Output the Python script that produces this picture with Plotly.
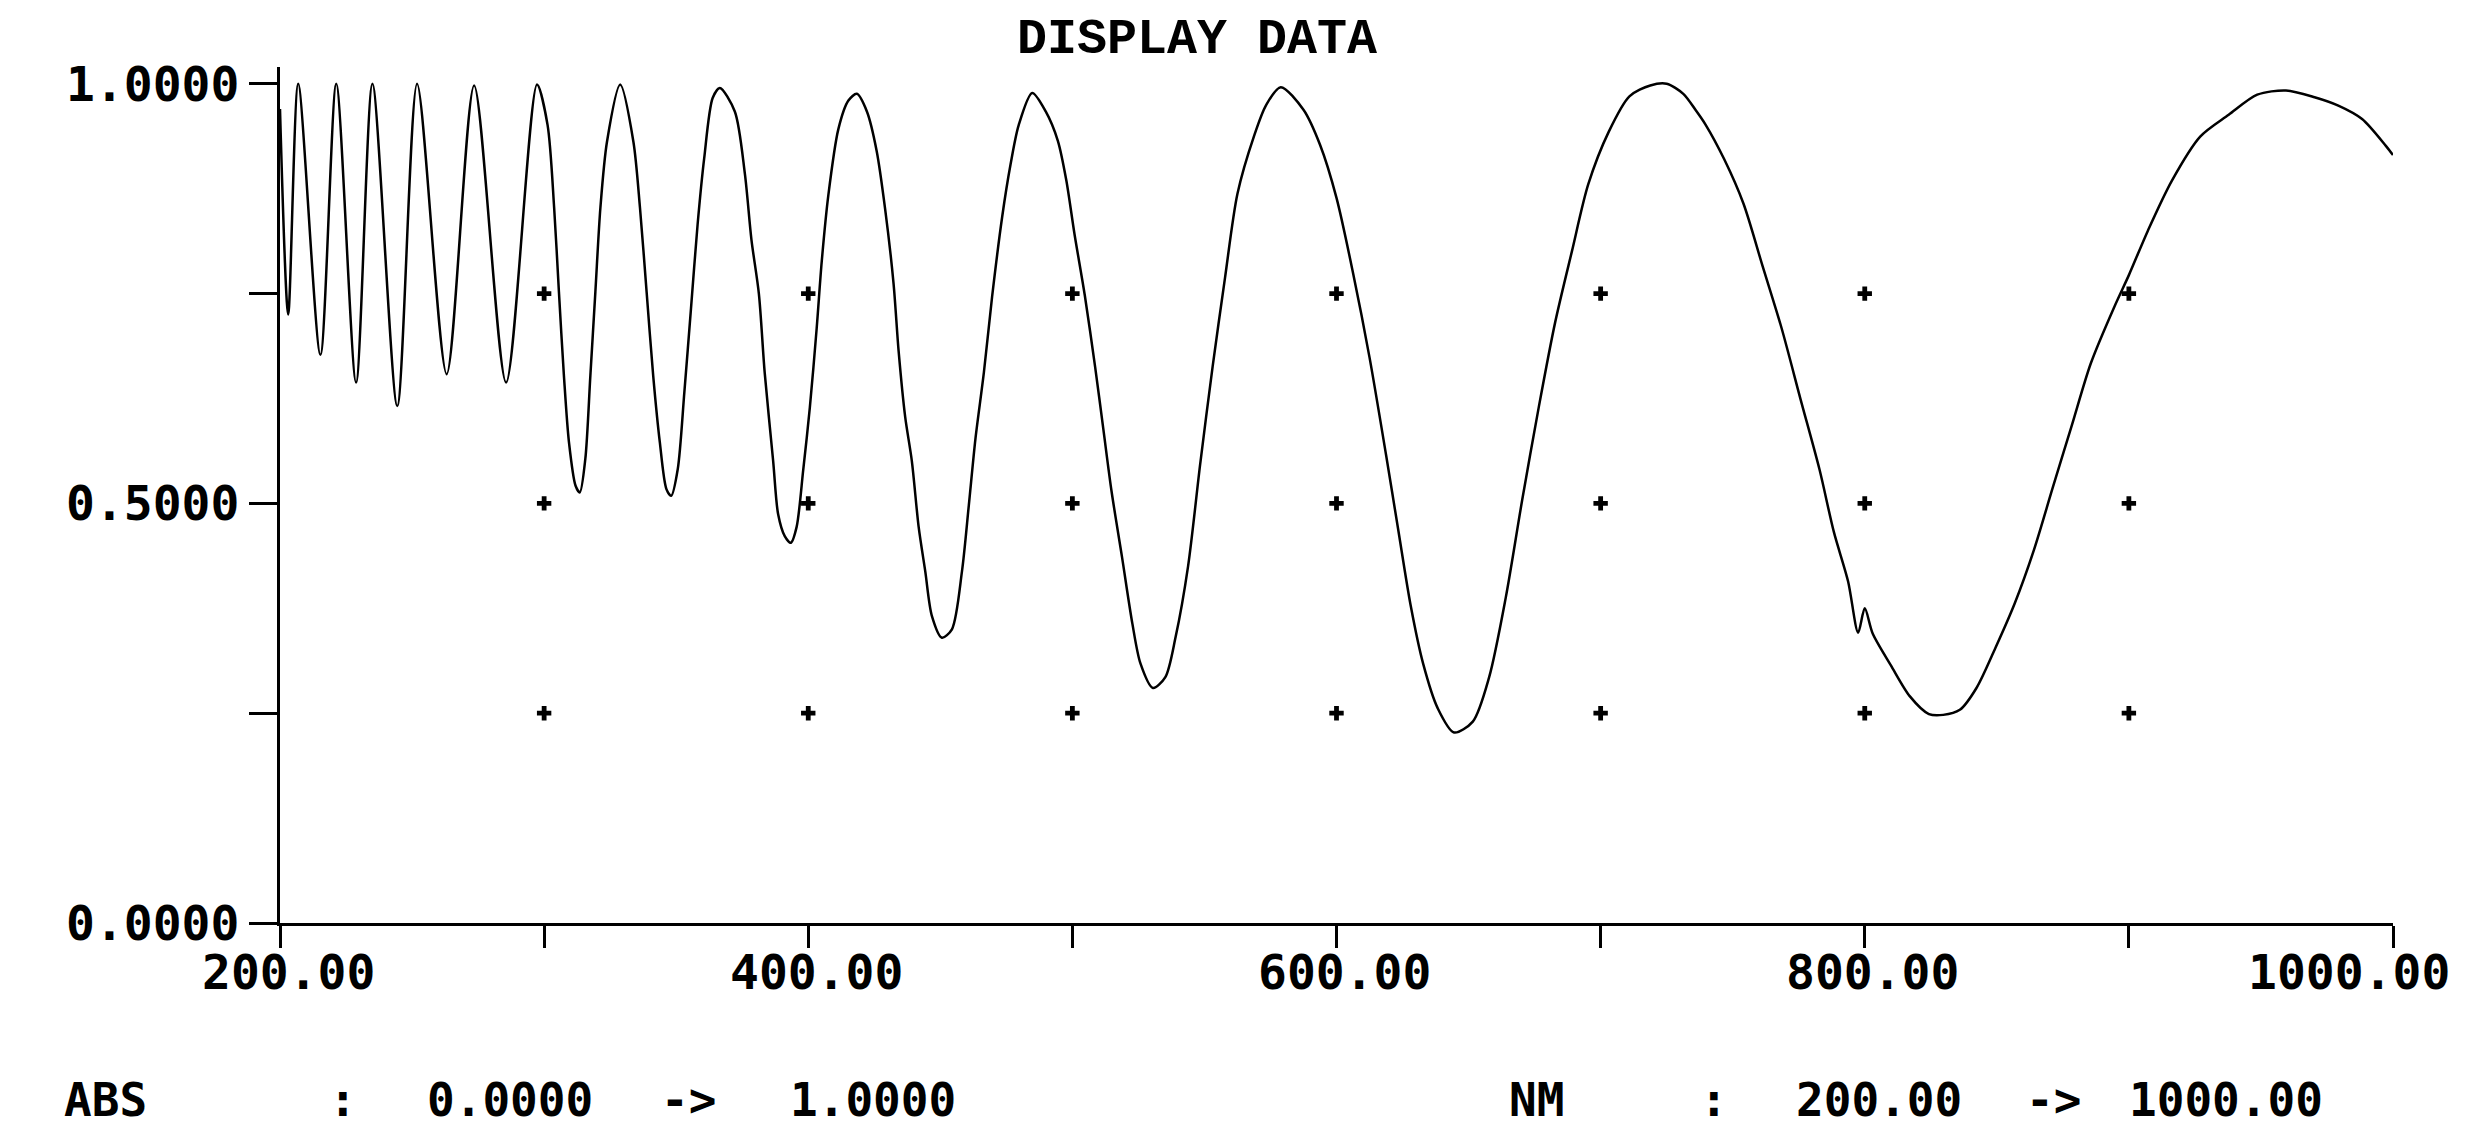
import plotly.graph_objects as go

# ---- data ----
wavelength_nm = [
    200.0, 203.1, 206.9, 215.3, 221.3, 228.8, 235.0, 244.4, 251.9, 263.1,
    273.5, 285.6, 297.3, 301.3, 303.8, 305.6, 307.5, 309.4, 311.9, 313.5,
    315.6, 317.5, 319.4, 321.3, 323.8, 328.8, 333.8, 336.3, 338.8, 341.3,
    343.8, 346.3, 348.1, 350.6, 353.1, 355.6, 358.1, 360.6, 363.8, 366.5,
    372.2, 376.0, 378.5, 381.3, 383.5, 386.7, 388.6, 391.1, 393.4, 395.6,
    398.1, 400.6, 403.2, 405.1, 407.6, 411.4, 415.2, 418.4, 422.2, 425.9,
    429.1, 432.3, 434.2, 436.7, 439.2, 441.8, 444.3, 446.8, 450.6, 454.4,
    458.2, 460.8, 463.3, 466.5, 469.6, 473.4, 476.6, 479.7, 484.8, 489.9,
    494.5, 497.7, 500.8, 504.7, 508.6, 511.7, 514.8, 518.8, 522.7, 525.8,
    530.5, 535.2, 539.1, 543.8, 548.4, 553.1, 557.8, 562.5, 568.8, 573.4,
    578.9, 587.5, 593.8, 600.0, 606.3, 612.5, 618.8, 623.4, 628.1, 632.8,
    638.3, 644.5, 651.6, 657.8, 664.1, 670.3, 676.6, 682.8, 689.1, 695.3,
    703.1, 710.9, 718.8, 725.0, 731.3, 735.9, 739.6, 746.8, 754.1, 761.3,
    768.5, 775.7, 782.9, 788.3, 793.7, 797.5, 800.0, 803.0, 809.9, 817.1,
    824.3, 829.7, 836.0, 842.3, 849.5, 856.8, 864.0, 871.2, 878.4, 885.6,
    894.6, 900.0, 907.2, 916.2, 927.0, 937.8, 948.6, 959.5, 970.3, 979.3,
    988.3, 997.3, 1000.0,
]
absorbance = [
    0.970, 0.725, 1.000, 0.677, 1.000, 0.644, 1.000, 0.616, 1.000, 0.654,
    0.998, 0.644, 0.999, 0.951, 0.852, 0.752, 0.652, 0.573, 0.521, 0.513,
    0.553, 0.652, 0.752, 0.852, 0.931, 0.999, 0.931, 0.852, 0.752, 0.652,
    0.573, 0.517, 0.509, 0.541, 0.633, 0.732, 0.832, 0.911, 0.983, 0.995,
    0.967, 0.893, 0.814, 0.750, 0.656, 0.551, 0.487, 0.461, 0.453, 0.472,
    0.540, 0.614, 0.709, 0.788, 0.867, 0.946, 0.980, 0.988, 0.967, 0.920,
    0.851, 0.762, 0.682, 0.603, 0.551, 0.472, 0.419, 0.366, 0.340, 0.350,
    0.419, 0.498, 0.577, 0.656, 0.746, 0.841, 0.904, 0.951, 0.989, 0.967,
    0.932, 0.885, 0.821, 0.748, 0.663, 0.589, 0.515, 0.436, 0.357, 0.309,
    0.280, 0.293, 0.341, 0.425, 0.547, 0.663, 0.769, 0.869, 0.938, 0.975,
    0.996, 0.969, 0.927, 0.864, 0.774, 0.674, 0.557, 0.468, 0.378, 0.309,
    0.256, 0.227, 0.240, 0.293, 0.388, 0.504, 0.615, 0.716, 0.800, 0.880,
    0.943, 0.985, 0.998, 1.000, 0.988, 0.969, 0.952, 0.910, 0.857, 0.783,
    0.709, 0.624, 0.540, 0.466, 0.407, 0.346, 0.375, 0.345, 0.307, 0.270,
    0.249, 0.248, 0.254, 0.280, 0.328, 0.381, 0.444, 0.519, 0.593, 0.667,
    0.735, 0.772, 0.825, 0.884, 0.937, 0.963, 0.987, 0.992, 0.984, 0.974,
    0.958, 0.926, 0.915,
]

grid_nm = [300, 400, 500, 600, 700, 800, 900]
grid_abs = [0.25, 0.50, 0.75]

x_tickvals = [200, 300, 400, 500, 600, 700, 800, 900, 1000]
x_labelvals = [200, 400, 600, 800, 1000]
x_labeltext = ["200.00", "400.00", "600.00", "800.00", "1000.00"]
y_tickvals = [0, 0.25, 0.5, 0.75, 1.0]
y_ticktext = ["0.0000", "", "0.5000", "", "1.0000"]

title_text = "DISPLAY DATA"
footer_items = [  # (text, pixel centre x)
    ("ABS", 97), (":", 335), ("0.0000", 502), ("->", 680), ("1.0000", 865),
    ("NM", 1528), (":", 1706), ("200.00", 1871), ("->", 2045), ("1000.00", 2218),
]

# ---- figure ----
W, H = 2466, 1147
L, R, T, B = 272, 81, 59, 232
MONO = "DejaVu Sans Mono"

def px_to_paper(px, py):
    return (px - L) / (W - L - R), (H - B - py) / (H - T - B)

fig = go.Figure()

gx = [x for x in grid_nm for _ in grid_abs]
gy = [y for _ in grid_nm for y in grid_abs]
fig.add_trace(go.Scatter(
    x=gx, y=gy, mode="markers",
    marker=dict(symbol="cross", size=12, color="black", line=dict(width=0)),
    hoverinfo="skip", showlegend=False,
))

fig.add_trace(go.Scatter(
    x=wavelength_nm, y=absorbance, mode="lines",
    line=dict(color="black", width=2.5, shape="spline", smoothing=0.8),
    showlegend=False,
))

tx, ty = px_to_paper(1189, 31)
fig.add_annotation(text=title_text, x=tx, y=ty, xref="paper", yref="paper",
                   xanchor="center", yanchor="middle", showarrow=False,
                   font=dict(family="Liberation Mono", size=50, color="black",
                             weight="bold"))

# x tick labels (placed under their ticks; the last one kept inside the page)
_, label_y = px_to_paper(0, 964)
for v, txt in zip(x_labelvals, x_labeltext):
    fig.add_annotation(text=txt, x=v, y=label_y, xref="x", yref="paper",
                       xanchor="center", yanchor="middle", showarrow=False,
                       xshift=(-44 if v == x_labelvals[-1] else 8),
                       font=dict(family=MONO, size=48, color="black",
                                 weight="bold"))

for txt, cx in footer_items:
    ax, ay = px_to_paper(cx, 1092)
    fig.add_annotation(text=txt, x=ax, y=ay, xref="paper", yref="paper",
                       xanchor="center", yanchor="middle", showarrow=False,
                       font=dict(family=MONO, size=46, color="black",
                                 weight="bold"))

fig.update_layout(
    width=W, height=H, autosize=False,
    margin=dict(l=L, r=R, t=T, b=B, pad=0),
    paper_bgcolor="white", plot_bgcolor="white",
    font=dict(family=MONO, color="black"),
    xaxis=dict(
        range=[200, 1000], showgrid=False, zeroline=False,
        showline=True, linecolor="black", linewidth=3,
        ticks="outside", ticklen=22, tickwidth=2.5, tickcolor="black",
        tickvals=x_tickvals, showticklabels=False,
        automargin=False,
    ),
    yaxis=dict(
        range=[0, 1.02], showgrid=False, zeroline=False,
        showline=True, linecolor="black", linewidth=3,
        ticks="outside", ticklen=28, tickwidth=2.5, tickcolor="black",
        tickvals=y_tickvals, ticktext=y_ticktext,
        tickfont=dict(family=MONO, size=48, color="black", weight="bold"),
        automargin=False,
    ),
)

fig.write_html("out.html")
